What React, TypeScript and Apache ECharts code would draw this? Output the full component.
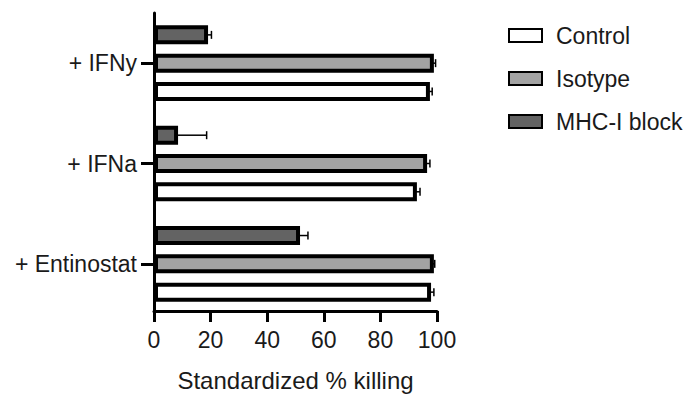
import React, { useEffect, useRef } from "react";
import * as echarts from "echarts";

const categories = ["+ Entinostat", "+ IFNa", "+ IFNy"];
const seriesNames = ["Control", "Isotype", "MHC-I block"];
const controlValues = [97.9, 92.9, 97.5];
const controlErrors = [1.0, 1.1, 0.8];
const isotypeValues = [98.9, 96.5, 98.9];
const isotypeErrors = [0.3, 1.0, 0.6];
const mhcValues = [51.6, 8.5, 19.1];
const mhcErrors = [2.8, 10.1, 1.2];
const xTicks = [0, 20, 40, 60, 80, 100];

const fills = ["#ffffff", "#a3a3a3", "#636363"];
const FONT = "Liberation Sans, Arial, sans-serif";
const TEXT = "#1a1a1a";

export default function App() {
  const ref = useRef<HTMLDivElement>(null);
  useEffect(() => {
    if (!ref.current) return;
    const chart = echarts.init(ref.current, null, { renderer: "svg" });
    const values = [controlValues, isotypeValues, mhcValues];
    const errors = [controlErrors, isotypeErrors, mhcErrors];
    const barWidth = 19;
    const step = 28.3;

    // drawn top-to-bottom: MHC-I block, Isotype, Control
    const order = [2, 1, 0];
    const barSeries = order.map((i) => ({
      name: seriesNames[i],
      type: "bar",
      data: values[i],
      barWidth,
      barGap: "49%",
      itemStyle: { color: fills[i], borderColor: "#000", borderWidth: 4 },
      z: 2,
    }));

    const errSeries = seriesNames.map((name, i) => ({
      name: name + " err",
      type: "custom",
      z: 3,
      silent: true,
      renderItem: (params: any, api: any) => {
        const cat = api.value(0);
        const v = api.value(1);
        const e = api.value(2);
        const start = api.coord([v, cat]);
        const end = api.coord([v + e, cat]);
        const y = start[1] + (1 - i) * step;
        const cap = 4;
        return {
          type: "group",
          children: [
            {
              type: "line",
              shape: { x1: start[0] - 2, y1: y, x2: end[0], y2: y },
              style: { stroke: "#000", lineWidth: 1.5 },
            },
            {
              type: "line",
              shape: { x1: end[0], y1: y - cap, x2: end[0], y2: y + cap },
              style: { stroke: "#000", lineWidth: 1.5 },
            },
          ],
        };
      },
      encode: { y: 0, x: 1 },
      data: categories.map((_, c) => [c, values[i][c], errors[i][c]]),
    }));

    chart.setOption({
      animation: false,
      textStyle: { fontFamily: FONT },
      grid: { left: 154, right: 262, top: 13, bottom: 73, containLabel: false },
      legend: {
        data: seriesNames,
        orient: "vertical",
        left: 503,
        top: 19,
        itemWidth: 33,
        itemHeight: 13,
        itemGap: 20,
        icon: "rect",
        textStyle: { fontSize: 23, color: TEXT, fontFamily: FONT, padding: [0, 0, 0, 9] },
        selectedMode: false,
      },
      xAxis: {
        type: "value",
        min: xTicks[0],
        max: xTicks[xTicks.length - 1],
        interval: 20,
        offset: -3,
        name: "Standardized % killing",
        nameLocation: "middle",
        nameGap: 57,
        nameTextStyle: { fontSize: 24, color: TEXT, fontFamily: FONT },
        axisLine: { show: true, lineStyle: { color: "#000", width: 3 } },
        axisTick: { show: true, length: 11, lineStyle: { color: "#000", width: 3 } },
        axisLabel: { fontSize: 23, color: TEXT, margin: 17, fontFamily: FONT },
        splitLine: { show: false },
      },
      yAxis: {
        type: "category",
        data: categories,
        axisLine: { show: true, lineStyle: { color: "#000", width: 3 } },
        axisTick: { show: true, alignWithLabel: true, length: 13, lineStyle: { color: "#000", width: 3 } },
        axisLabel: { fontSize: 23, color: TEXT, margin: 17, fontFamily: FONT },
      },
      series: [...barSeries, ...errSeries],
    });
    return () => chart.dispose();
  }, []);
  return <div ref={ref} style={{ width: 699, height: 397, position: "absolute", left: 0, top: 0, background: "#fff" }} />;
}
